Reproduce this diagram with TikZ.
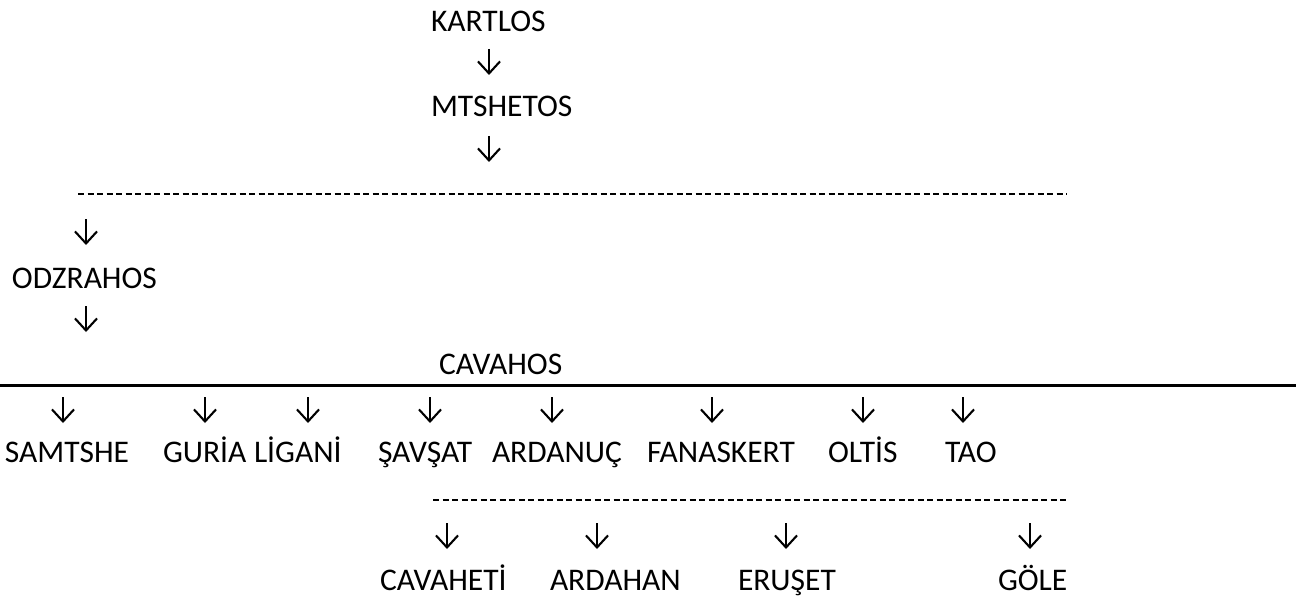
\documentclass[tikz,border=0pt]{standalone}
\usepackage{fontspec}
\setmainfont{Carlito}
\usetikzlibrary{arrows.meta}

\tikzset{
  lbl/.style={inner sep=0pt, outer sep=0pt, anchor=base west, font=\fontsize{31.5}{37}\selectfont},
  down/.style={line width=2.1pt, -{Straight Barb[length=12pt,width=22pt,line width=2.1pt]}},
  hyphens/.style={line width=2.2pt, dash pattern=on 6.3pt off 3.2pt},
  rule/.style={line width=2.4pt}
}

\begin{document}
\begin{tikzpicture}[x=1pt, y=-1pt]
  \fill[white] (0,0) rectangle (1305,596);
  \useasboundingbox (0,0) rectangle (1305,596);

  % lineage names
  \node[lbl] (kartlos)  at (431,32)  {KARTLOS};
  \node[lbl] (mtshetos) at (431,117) {MTSHETOS};
  \node[lbl] (odzrahos) at (12,288)  {ODZRAHOS};
  \node[lbl] (cavahos)  at (439,374) {CAVAHOS};

  % provinces
  \node[lbl] (samtshe)   at (5,462)   {SAMTSHE};
  \node[lbl] (guria)     at (163,462) {GURİA};
  \node[lbl] (ligani)    at (254,462) {LİGANİ};
  \node[lbl] (savsat)    at (378,462) {ŞAVŞAT};
  \node[lbl] (ardanuc)   at (492,462) {ARDANUÇ};
  \node[lbl] (fanaskert) at (647,462) {FANASKERT};
  \node[lbl] (oltis)     at (828,462) {OLTİS};
  \node[lbl] (tao)       at (945,462) {TAO};

  \node[lbl] (cavaheti) at (380,590)  {CAVAHETİ};
  \node[lbl] (ardahan)  at (550,590)  {ARDAHAN};
  \node[lbl] (eruset)   at (738,590)  {ERUŞET};
  \node[lbl] (gole)     at (998,590)  {GÖLE};

  % separators
  \coordinate (d1a) at (78,194);   \coordinate (d1b) at (1067,194);
  \draw[hyphens] (d1a) -- (d1b);
  \coordinate (r1a) at (0,385.5);  \coordinate (r1b) at (1296,385.5);
  \draw[rule] (r1a) -- (r1b);
  \coordinate (d2a) at (433,500);  \coordinate (d2b) at (1067,500);
  \draw[hyphens] (d2a) -- (d2b);

  % downward arrows
  \foreach \n/\x/\y in {a1/489/49, a2/489/136, a3/86/219, a4/86/306,
      b1/63/397, b2/205/397, b3/308/397, b4/430/397, b5/552/397,
      b6/712/397, b7/863/397, b8/963/397,
      c1/447/523, c2/597/523, c3/786/523, c4/1030/523} {
    \coordinate (\n-top) at (\x,\y);
    \coordinate (\n-tip) at (\x,\y+26);
    \draw[down] (\n-top) -- (\n-tip);
  }
\end{tikzpicture}
\end{document}
